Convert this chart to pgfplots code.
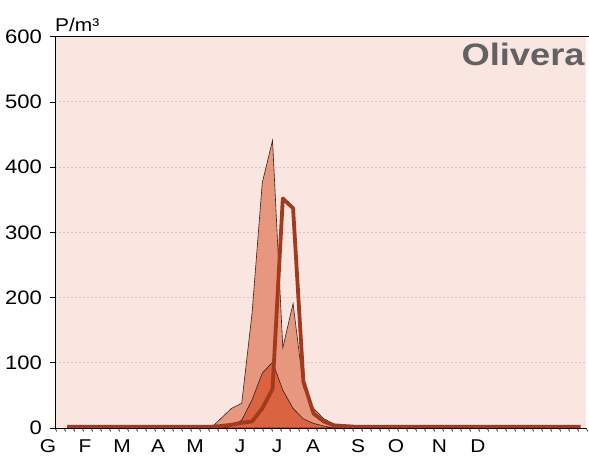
\documentclass[border=0pt]{standalone}
\usepackage{pgfplots}
\pgfplotsset{compat=1.18}
\usepackage{fontspec}
\setmainfont{Liberation Sans}
\definecolor{bgpink}{HTML}{FAE6E1}
\definecolor{lightsal}{HTML}{E6977E}
\definecolor{medsal}{HTML}{DA6340}
\definecolor{thickred}{HTML}{A3391D}
\definecolor{outl}{HTML}{3C1E14}
\definecolor{gridc}{HTML}{D2C6C4}
\definecolor{titlegray}{HTML}{626262}
\tikzset{mon/.style={font=\fontsize{18.5}{18.5}\selectfont, xscale=1.13, anchor=base, inner sep=0pt, yshift=-24.5pt}}
\begin{document}
\begin{tikzpicture}[x=1pt,y=1pt]
\useasboundingbox (0,0) rectangle (589,456);
\begin{axis}[
  at={(55pt,28pt)}, anchor=south west,
  width=531pt, height=391.3pt, scale only axis,
  xmin=-0.18, xmax=51.52, ymin=0, ymax=600,
  axis background/.style={fill=bgpink},
  axis line style={draw=none},
  clip=false,
  ytick={0,100,...,600},
  ytick pos=left,
  yticklabel style={font=\fontsize{19.5}{19.5}\selectfont, xscale=1.13, anchor=east, inner sep=0pt, xshift=-7pt},
  /pgf/number format/assume math mode=true,
  ymajorgrids, grid style={gridc, dash pattern=on 1.6pt off 2.4pt, line width=0.9pt},
  tick align=outside, major tick length=5pt,
  tick style={black, line width=0.6pt},
  xtick=\empty,
]
% light salmon area
\addplot[fill=lightsal, draw=outl, line width=0.6pt] coordinates {
(1,0)(2,0)(3,0)(4,0)(5,0)(6,0)(7,0)(8,0)(9,0)(10,0)(11,0)(12,0)(13,0)(14,0)(15,0)
(16,15)(17,30)(18,38)(19,175)(20,376)(21,441)(22,123)(23,191)(24,63)(25,30)(26,14)(27,6)(28,3)(29,2)
(30,0)(31,0)(32,0)(33,0)(34,0)(35,0)(36,0)(37,0)(38,0)(39,0)(40,0)(41,0)(42,0)(43,0)(44,0)(45,0)(46,0)(47,0)(48,0)(49,0)(50,0)(51,0)
} \closedcycle;
% medium area
\addplot[fill=medsal, draw=outl, line width=0.6pt] coordinates {
(1,0)(2,0)(3,0)(4,0)(5,0)(6,0)(7,0)(8,0)(9,0)(10,0)(11,0)(12,0)(13,0)(14,0)(15,0)(16,0)
(17,3)(18,12)(19,43)(20,84)(21,101)(22,58)(23,30)(24,14)(25,7)(26,3)
(27,0)(28,0)(29,0)(30,0)(31,0)(32,0)(33,0)(34,0)(35,0)(36,0)(37,0)(38,0)(39,0)(40,0)(41,0)(42,0)(43,0)(44,0)(45,0)(46,0)(47,0)(48,0)(49,0)(50,0)(51,0)
} \closedcycle;
% thick line
\addplot[draw=thickred, line width=3.8pt, line join=round] coordinates {
(1,2)(2,2)(3,2)(4,2)(5,2)(6,2)(7,2)(8,2)(9,2)(10,2)(11,2)(12,2)(13,2)(14,2)(15,2)
(16,3)(17,5)(18,8)(19,10)(20,30)(21,60)(22,352)(23,337)(24,72)(25,22)(26,10)(27,4)(28,3)
(29,2)(30,2)(31,2)(32,2)(33,2)(34,2)(35,2)(36,2)(37,2)(38,2)(39,2)(40,2)(41,2)(42,2)(43,2)(44,2)(45,2)(46,2)(47,2)(48,2)(49,2)(50,2)(51,2)
};
% small x ticks
\pgfplotsinvokeforeach{0,...,59}{
  \draw[black!75, line width=0.8pt] (axis cs:{-0.18+#1*0.8763},0) -- ++(0,-3.5pt);
}
% axis lines
\draw[black, line width=0.8pt] (rel axis cs:0,0) -- (rel axis cs:0,1);
\draw[black, line width=0.8pt] (rel axis cs:0,1) -- ([xshift=3pt]rel axis cs:1,1);
\draw[black, line width=0.8pt] (rel axis cs:0,0) -- (rel axis cs:1,0);
% month labels
\node[mon] at (axis cs:-0.86,0) {G};
\node[mon] at (axis cs:2.75,0) {F};
\node[mon] at (axis cs:6.34,0) {M};
\node[mon] at (axis cs:9.85,0) {A};
\node[mon] at (axis cs:13.45,0) {M};
\node[mon] at (axis cs:17.83,0) {J};
\node[mon] at (axis cs:21.44,0) {J};
\node[mon] at (axis cs:24.94,0) {A};
\node[mon] at (axis cs:29.32,0) {S};
\node[mon] at (axis cs:33.02,0) {O};
\node[mon] at (axis cs:37.24,0) {N};
\node[mon] at (axis cs:41.0,0) {D};
\node[font=\fontsize{18.5}{18.5}\selectfont, xscale=1.13, anchor=base west, inner sep=0pt, yshift=5.7pt] at (rel axis cs:0,1) {P/m³};
\node[font=\fontsize{31}{31}\selectfont\bfseries, text=titlegray, xscale=1.17, anchor=base east, inner sep=0pt, xshift=-1pt, yshift=-28.3pt] at (rel axis cs:1,1) {Olivera};
\end{axis}
\end{tikzpicture}
\end{document}
